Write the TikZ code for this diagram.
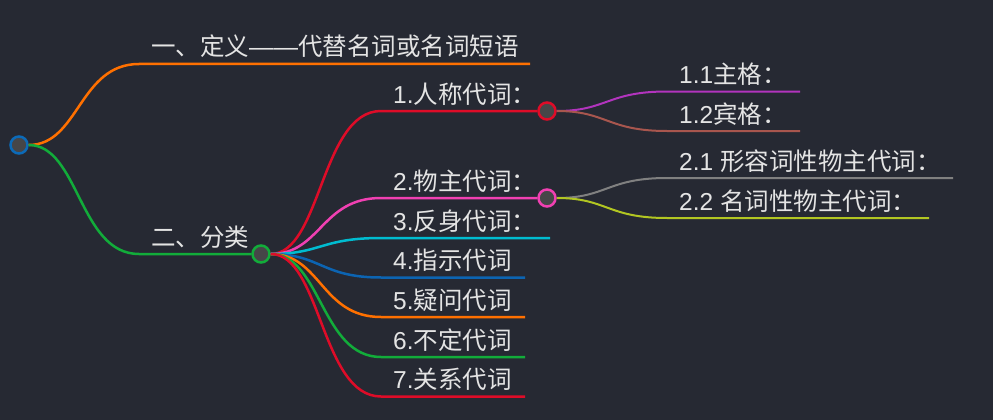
\documentclass[tikz,border=0pt]{standalone}
\usepackage{fontspec}
\setmainfont{Liberation Sans}
\newfontfamily\cjk{Noto Sans CJK SC}
\definecolor{bgcol}{RGB}{38,41,51}
\definecolor{txtcol}{RGB}{228,228,228}
\definecolor{dotfill}{RGB}{70,70,72}
\definecolor{rootblue}{RGB}{12,106,184}
\definecolor{orng}{RGB}{255,112,0}
\definecolor{grn}{RGB}{18,172,58}
\definecolor{rd}{RGB}{222,12,40}
\definecolor{pnk}{RGB}{240,64,178}
\definecolor{cyn}{RGB}{0,188,208}
\definecolor{blu}{RGB}{12,100,178}
\definecolor{prpl}{RGB}{178,52,190}
\definecolor{brwn}{RGB}{168,86,78}
\definecolor{gry}{RGB}{128,128,128}
\definecolor{ylgrn}{RGB}{178,198,34}
\tikzset{
  topic/.style={anchor=base west, inner sep=0pt, text=txtcol, font=\fontsize{24.5}{28}\selectfont},
  dot/.style={circle, minimum size=17pt, inner sep=0pt, line width=2.5pt, fill=dotfill},
  branch/.style={line width=2.5pt},
  twig/.style={line width=2pt},
}
\begin{document}
\begin{tikzpicture}[x=1pt,y=-1pt]
\fill[bgcol] (0,0) rectangle (993,420);
\useasboundingbox (0,0) rectangle (993,420);
% circles
\node[dot, draw=rootblue] (root) at (19,145){};
\node[dot, draw=grn] (fenlei) at (261,254){};
\node[dot, draw=rd] (renc) at (547,111){};
\node[dot, draw=pnk] (wuzhu) at (547,198){};
% line ends
\coordinate (dingyi-s) at (139,64);
\coordinate (dingyi-e) at (530,64);
\coordinate (fenlei-s) at (139,254);
\coordinate (renc-s) at (381,111);
\coordinate (wuzhu-s) at (381,198);
\coordinate (fanshen-s) at (381,238);
\coordinate (fanshen-e) at (550,238);
\coordinate (zhishi-s) at (381,277.5);
\coordinate (zhishi-e) at (525,277.5);
\coordinate (yiwen-s) at (381,317);
\coordinate (yiwen-e) at (525,317);
\coordinate (buding-s) at (381,357);
\coordinate (buding-e) at (525,357);
\coordinate (guanxi-s) at (381,396.5);
\coordinate (guanxi-e) at (525,396.5);
\coordinate (zhuge-s) at (667,91.5);
\coordinate (zhuge-e) at (800,91.5);
\coordinate (binge-s) at (667,131);
\coordinate (binge-e) at (800,131);
\coordinate (xingrong-s) at (667,178);
\coordinate (xingrong-e) at (953,178);
\coordinate (mingci-s) at (667,218);
\coordinate (mingci-e) at (929,218);
% texts
\node[topic] (dingyi) at (151,56) {{\cjk 一、定义}——{\cjk 代替名词或名词短语}};
\node[topic] (fenlei-t) at (151,246) {\cjk 二、分类};
\node[topic] (renc-t) at (393,103) {1.{\cjk 人称代词：}};
\node[topic] (wuzhu-t) at (393,190) {2.{\cjk 物主代词：}};
\node[topic] (fanshen-t) at (393,230) {3.{\cjk 反身代词：}};
\node[topic] (zhishi-t) at (393,269.5) {4.{\cjk 指示代词}};
\node[topic] (yiwen-t) at (393,309) {5.{\cjk 疑问代词}};
\node[topic] (buding-t) at (393,349) {6.{\cjk 不定代词}};
\node[topic] (guanxi-t) at (393,388.5) {7.{\cjk 关系代词}};
\node[topic] (zhuge-t) at (679,83.5) {1.1{\cjk 主格：}};
\node[topic] (binge-t) at (679,123) {1.2{\cjk 宾格：}};
\node[topic] (xingrong-t) at (679,170) {2.1 {\cjk 形容词性物主代词：}};
\node[topic] (mingci-t) at (679,210) {2.2 {\cjk 名词性物主代词：}};
% level 1
\draw[branch, orng](root) .. controls +(60,0) and +(-60,0) .. (dingyi-s) -- (dingyi-e);
\draw[branch, grn](root) .. controls +(60,0) and +(-60,0) .. (fenlei-s) -- (fenlei);
% level 2
\draw[branch, rd](fenlei) .. controls +(60,0) and +(-60,0) .. (renc-s) -- (renc);
\draw[branch, pnk](fenlei) .. controls +(60,0) and +(-60,0) .. (wuzhu-s) -- (wuzhu);
\draw[branch, cyn](fenlei) .. controls +(60,0) and +(-60,0) .. (fanshen-s) -- (fanshen-e);
\draw[branch, blu](fenlei) .. controls +(60,0) and +(-60,0) .. (zhishi-s) -- (zhishi-e);
\draw[branch, orng](fenlei) .. controls +(60,0) and +(-60,0) .. (yiwen-s) -- (yiwen-e);
\draw[branch, grn](fenlei) .. controls +(60,0) and +(-60,0) .. (buding-s) -- (buding-e);
\draw[branch, rd](fenlei) .. controls +(60,0) and +(-60,0) .. (guanxi-s) -- (guanxi-e);
% level 3
\draw[twig, prpl](renc) .. controls +(60,0) and +(-60,0) .. (zhuge-s) -- (zhuge-e);
\draw[twig, brwn](renc) .. controls +(60,0) and +(-60,0) .. (binge-s) -- (binge-e);
\draw[twig, gry](wuzhu) .. controls +(60,0) and +(-60,0) .. (xingrong-s) -- (xingrong-e);
\draw[twig, ylgrn](wuzhu) .. controls +(60,0) and +(-60,0) .. (mingci-s) -- (mingci-e);
\end{tikzpicture}
\end{document}
